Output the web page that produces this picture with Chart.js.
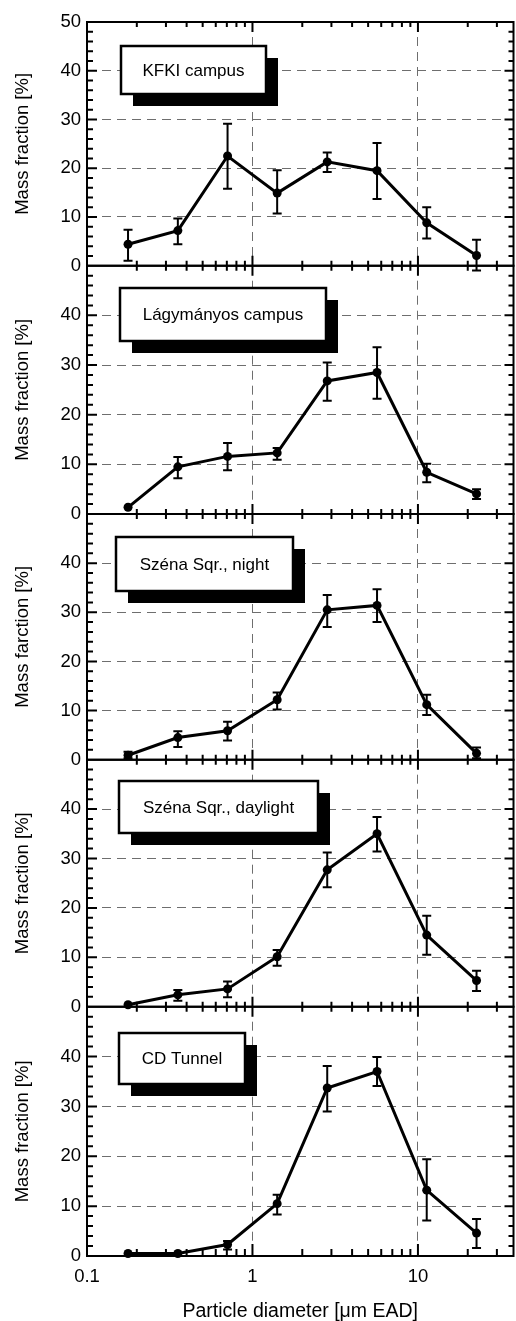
<!DOCTYPE html>
<html><head><meta charset="utf-8">
<script src="https://cdn.jsdelivr.net/npm/chart.js@4/dist/chart.umd.min.js"></script>
<style>
html,body{margin:0;padding:0;background:#fff;width:516px;height:1321px;overflow:hidden}
canvas{position:absolute;left:0;top:0}
</style></head><body>
<canvas id="c0" width="516" height="1321"></canvas>
<canvas id="c1" width="516" height="1321"></canvas>
<canvas id="c2" width="516" height="1321"></canvas>
<canvas id="c3" width="516" height="1321"></canvas>
<canvas id="c4" width="516" height="1321"></canvas>
<script>
// ---- data ----
const diameters = [0.177, 0.354, 0.707, 1.41, 2.83, 5.66, 11.3, 22.6];
const siteNames = ['KFKI campus', 'Lágymányos campus', 'Széna Sqr., night', 'Széna Sqr., daylight', 'CD Tunnel'];
const yTitles = ['Mass fraction [%]', 'Mass fraction [%]', 'Mass farction [%]', 'Mass fraction [%]', 'Mass fraction [%]'];
const xTitle = 'Particle diameter [\u03bcm EAD]';

const kfkiMass  = [4.4, 7.2, 22.5, 14.9, 21.3, 19.5, 8.8, 2.1];
const kfkiUpper = [7.4, 9.7, 29.1, 19.6, 23.2, 25.2, 12.0, 5.3];
const kfkiLower = [1.0, 4.4, 15.8, 10.7, 19.2, 13.7, 5.6, -1.0];

const lagyMass  = [1.35, 9.5, 11.6, 12.3, 26.8, 28.5, 8.4, 4.05];
const lagyUpper = [1.35, 11.5, 14.3, 13.3, 30.5, 33.6, 10.1, 5.0];
const lagyLower = [1.35, 7.2, 8.8, 10.9, 22.8, 23.2, 6.4, 3.0];

const nightMass  = [0.9, 4.5, 5.9, 12.2, 30.5, 31.4, 11.2, 1.3];
const nightUpper = [1.6, 5.8, 7.7, 13.7, 33.5, 34.7, 13.2, 2.5];
const nightLower = [0.3, 2.6, 3.9, 10.2, 27.0, 28.0, 9.1, 0.3];

const dayMass  = [0.4, 2.4, 3.6, 10.1, 27.7, 35.0, 14.5, 5.3];
const dayUpper = [0.4, 3.4, 5.1, 11.5, 31.2, 38.4, 18.4, 7.3];
const dayLower = [0.4, 1.2, 1.9, 8.3, 24.2, 31.4, 10.5, 3.2];

const tunnelMass  = [0.5, 0.5, 2.3, 10.5, 33.7, 37.0, 13.2, 4.6];
const tunnelUpper = [0.5, 0.5, 3.0, 12.3, 38.1, 39.9, 19.4, 7.4];
const tunnelLower = [0.5, 0.5, 1.3, 8.3, 29.0, 34.1, 7.1, 1.6];

const xTickLabels = ['0.1', '1', '10'];
const xMajorTicks = [1, 10];
const xMinorTicks = [0.2, 0.3, 0.4, 0.5, 0.6, 0.7, 0.8, 0.9, 2, 3, 4, 5, 6, 7, 8, 9, 20, 30];
const yTickLabelsTop = ['0', '10', '20', '30', '40', '50'];
const yTickLabelsRest = ['0', '10', '20', '30', '40'];

const massSeries  = [kfkiMass, lagyMass, nightMass, dayMass, tunnelMass];
const upperSeries = [kfkiUpper, lagyUpper, nightUpper, dayUpper, tunnelUpper];
const lowerSeries = [kfkiLower, lagyLower, nightLower, dayLower, tunnelLower];

// ---- layout ----
const W = 516, H = 1321;
const panelTops    = [22, 265.7, 514, 759.7, 1006.7];
const panelBottoms = [265.7, 514, 759.7, 1006.7, 1256];
const legendBoxes = [
  {x: 121, y: 46, w: 145, h: 48},
  {x: 120, y: 288, w: 206, h: 53},
  {x: 116, y: 537, w: 177, h: 54},
  {x: 119, y: 781, w: 199, h: 52},
  {x: 119, y: 1033, w: 126, h: 51}
];
const FONT = "'Liberation Sans', Arial, Helvetica, sans-serif";
const GRID = '#6e6e6e';

const panelPlugin = {
  id: 'panelDecor',
  afterDatasetsDraw(chart, args, o) {
    const ctx = chart.ctx, xs = chart.scales.x, ys = chart.scales.y;
    ctx.save();
    ctx.strokeStyle = '#000';
    ctx.lineWidth = 2;
    o.upper.forEach((u, i) => {
      const l = o.lower[i];
      if (u === l) return;
      const x = xs.getPixelForValue(diameters[i]);
      const yu = ys.getPixelForValue(u), yl = ys.getPixelForValue(l);
      ctx.beginPath();
      ctx.moveTo(x, yu); ctx.lineTo(x, yl);
      ctx.moveTo(x - 4.5, yu); ctx.lineTo(x + 4.5, yu);
      ctx.moveTo(x - 4.5, yl); ctx.lineTo(x + 4.5, yl);
      ctx.stroke();
    });
    ctx.restore();
  },
  afterDraw(chart, args, o) {
    const ctx = chart.ctx, a = chart.chartArea, xs = chart.scales.x, ys = chart.scales.y;
    ctx.save();
    ctx.strokeStyle = '#000';
    ctx.lineWidth = 2;
    ctx.lineCap = 'butt';
    // frame
    ctx.beginPath();
    ctx.moveTo(a.left, a.top - 1); ctx.lineTo(a.left, a.bottom + 1);
    ctx.moveTo(a.right, a.top - 1); ctx.lineTo(a.right, a.bottom + 1);
    ctx.moveTo(a.left, a.top); ctx.lineTo(a.right, a.top);
    ctx.moveTo(a.left, a.bottom); ctx.lineTo(a.right, a.bottom);
    ctx.stroke();
    // x ticks (inward top & bottom)
    ctx.beginPath();
    xMinorTicks.forEach(v => {
      const x = xs.getPixelForValue(v);
      ctx.moveTo(x, a.top); ctx.lineTo(x, a.top + 5);
      ctx.moveTo(x, a.bottom); ctx.lineTo(x, a.bottom - (o.last ? 7 : 5));
    });
    xMajorTicks.forEach(v => {
      const x = xs.getPixelForValue(v);
      ctx.moveTo(x, a.top); ctx.lineTo(x, a.top + 10);
      ctx.moveTo(x, a.bottom); ctx.lineTo(x, a.bottom - (o.last ? 12 : 10));
    });
    // y ticks
    for (let v = 2; v < 50; v += 2) {
      const y = ys.getPixelForValue(v);
      const major = v % 10 === 0;
      ctx.moveTo(a.left, y); ctx.lineTo(a.left + (major ? 10 : 6), y);
      ctx.moveTo(a.right, y); ctx.lineTo(a.right - (major ? 9 : 5), y);
    }
    ctx.stroke();
    // legend box
    const b = o.box;
    ctx.fillStyle = '#000';
    ctx.fillRect(b.x + 12, b.y + 12, b.w, b.h);
    ctx.fillStyle = '#fff';
    ctx.fillRect(b.x, b.y, b.w, b.h);
    ctx.lineWidth = 2.5;
    ctx.strokeRect(b.x, b.y, b.w, b.h);
    ctx.fillStyle = '#000';
    ctx.font = '17px ' + FONT;
    ctx.textAlign = 'center';
    ctx.textBaseline = 'middle';
    ctx.fillText(o.name, b.x + b.w / 2, b.y + b.h / 2 + 1);
    ctx.restore();
  }
};

for (let p = 0; p < 5; p++) {
  const last = p === 4;
  const yLabels = p === 0 ? yTickLabelsTop : yTickLabelsRest;
  new Chart(document.getElementById('c' + p), {
    type: 'line',
    data: {
      datasets: [{
        data: diameters.map((d, i) => ({x: d, y: massSeries[p][i]})),
        borderColor: '#000',
        borderWidth: 3,
        pointRadius: 4.5,
        pointBackgroundColor: '#000',
        pointBorderColor: '#000',
        pointBorderWidth: 0,
        tension: 0,
        clip: false
      }]
    },
    plugins: [panelPlugin],
    options: {
      responsive: false,
      animation: false,
      devicePixelRatio: 1,
      layout: {autoPadding: false, padding: {top: panelTops[p], bottom: last ? 0 : H - panelBottoms[p], left: 0, right: 2.5}},
      plugins: {
        legend: {display: false},
        tooltip: {enabled: false},
        panelDecor: {upper: upperSeries[p], lower: lowerSeries[p], box: legendBoxes[p], name: siteNames[p], last: last}
      },
      scales: {
        x: {
          type: 'logarithmic',
          min: 0.1,
          max: 37.8,
          position: 'bottom',
          afterFit: s => {
            s.height = last ? H - panelBottoms[p] : 0;
            s.paddingLeft = 0; s.paddingRight = 0;
          },
          grid: {
            drawTicks: false,
            lineWidth: 1,
            color: c => (c.tick && (c.tick.value === 1 || c.tick.value === 10)) ? GRID : 'rgba(0,0,0,0)'
          },
          border: {display: false, dash: [9, 6]},
          ticks: {
            display: last,
            autoSkip: false,
            maxRotation: 0,
            padding: 10,
            color: '#000',
            font: {family: FONT, size: 18.5},
            callback: v => xTickLabels.includes(String(v)) ? String(v) : ''
          },
          title: {
            display: last,
            text: xTitle,
            color: '#000',
            font: {family: FONT, size: 19.5},
            padding: {top: 0, bottom: -2}
          }
        },
        y: {
          min: 0,
          max: 50,
          afterFit: s => { s.width = 87; s.paddingTop = 0; s.paddingBottom = 0; },
          grid: {
            drawTicks: false,
            lineWidth: 1,
            color: c => (c.tick && (c.tick.value === 0 || c.tick.value === 50)) ? 'rgba(0,0,0,0)' : GRID
          },
          border: {display: false, dash: [9, 6]},
          ticks: {
            stepSize: 10,
            autoSkip: false,
            padding: 6,
            color: '#000',
            font: {family: FONT, size: 18.5},
            callback: v => yLabels.includes(String(v)) ? String(v) : ''
          },
          title: {
            display: true,
            text: yTitles[p],
            color: '#000',
            font: {family: FONT, size: 18.5},
            padding: {top: 12, bottom: 0}
          }
        }
      }
    }
  });
}
</script>
</body></html>
